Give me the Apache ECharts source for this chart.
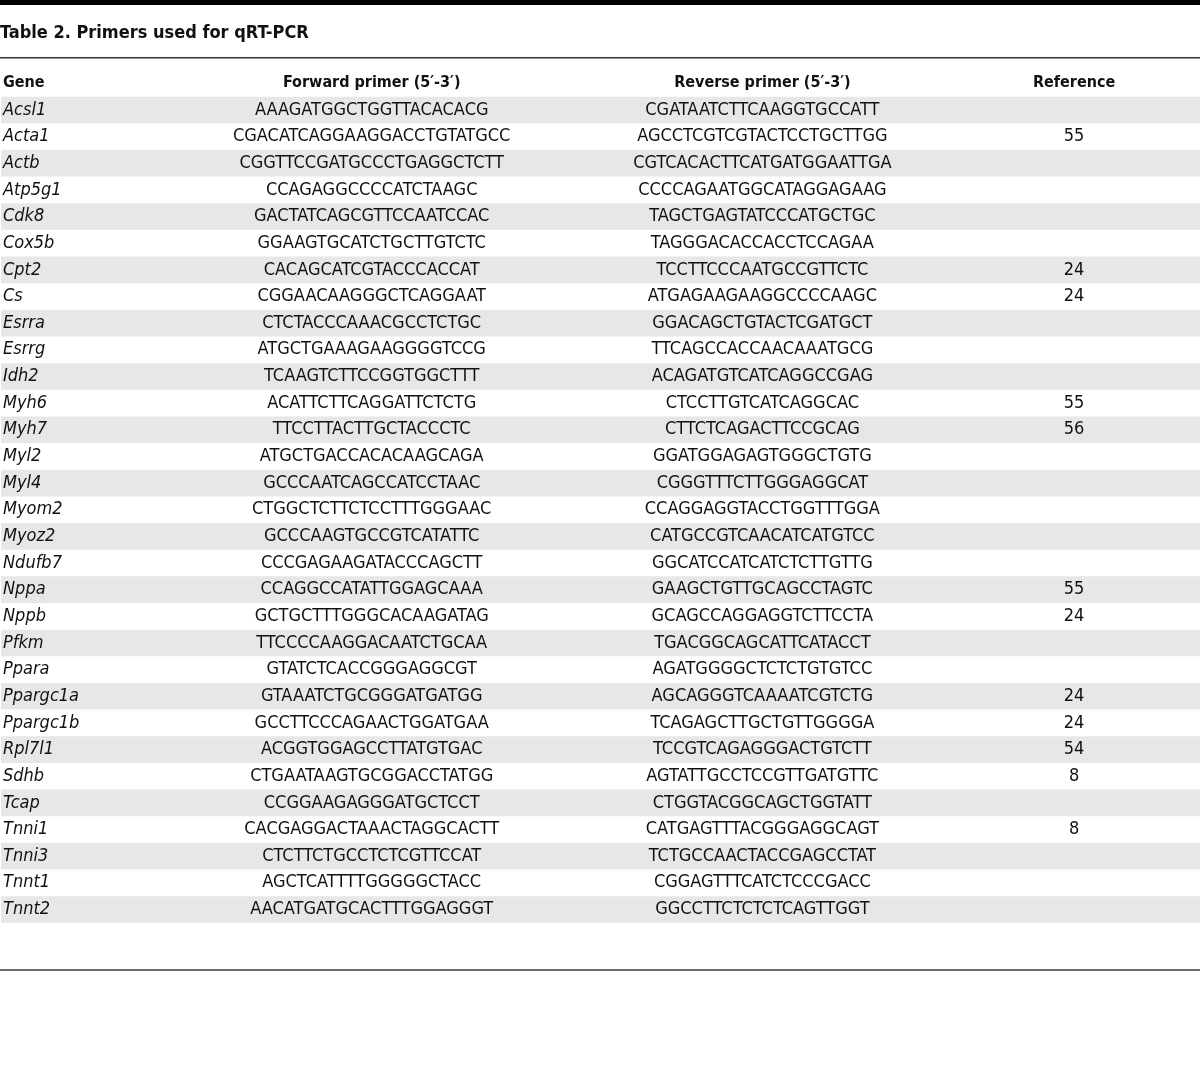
<!DOCTYPE html>
<html><head><meta charset="utf-8">
<script src="https://cdn.jsdelivr.net/npm/echarts@6/dist/echarts.min.js"></script>
<style>html,body{margin:0;padding:0;background:#fff}#c{width:1200px;height:1069px}</style>
</head><body><div id="c"></div>
<script>
const titleText = 'Table 2. Primers used for qRT-PCR';
const headers = ['Gene', 'Forward primer (5\u2032-3\u2032)', 'Reverse primer (5\u2032-3\u2032)', 'Reference'];
const genes = ['Acsl1','Acta1','Actb','Atp5g1','Cdk8','Cox5b','Cpt2','Cs','Esrra','Esrrg','Idh2','Myh6','Myh7','Myl2','Myl4','Myom2','Myoz2','Ndufb7','Nppa','Nppb','Pfkm','Ppara','Ppargc1a','Ppargc1b','Rpl7l1','Sdhb','Tcap','Tnni1','Tnni3','Tnnt1','Tnnt2'];
const forwardPrimers = ['AAAGATGGCTGGTTACACACG','CGACATCAGGAAGGACCTGTATGCC','CGGTTCCGATGCCCTGAGGCTCTT','CCAGAGGCCCCATCTAAGC','GACTATCAGCGTTCCAATCCAC','GGAAGTGCATCTGCTTGTCTC','CACAGCATCGTACCCACCAT','CGGAACAAGGGCTCAGGAAT','CTCTACCCAAACGCCTCTGC','ATGCTGAAAGAAGGGGTCCG','TCAAGTCTTCCGGTGGCTTT','ACATTCTTCAGGATTCTCTG','TTCCTTACTTGCTACCCTC','ATGCTGACCACACAAGCAGA','GCCCAATCAGCCATCCTAAC','CTGGCTCTTCTCCTTTGGGAAC','GCCCAAGTGCCGTCATATTC','CCCGAGAAGATACCCAGCTT','CCAGGCCATATTGGAGCAAA','GCTGCTTTGGGCACAAGATAG','TTCCCCAAGGACAATCTGCAA','GTATCTCACCGGGAGGCGT','GTAAATCTGCGGGATGATGG','GCCTTCCCAGAACTGGATGAA','ACGGTGGAGCCTTATGTGAC','CTGAATAAGTGCGGACCTATGG','CCGGAAGAGGGATGCTCCT','CACGAGGACTAAACTAGGCACTT','CTCTTCTGCCTCTCGTTCCAT','AGCTCATTTTGGGGGCTACC','AACATGATGCACTTTGGAGGGT'];
const reversePrimers = ['CGATAATCTTCAAGGTGCCATT','AGCCTCGTCGTACTCCTGCTTGG','CGTCACACTTCATGATGGAATTGA','CCCCAGAATGGCATAGGAGAAG','TAGCTGAGTATCCCATGCTGC','TAGGGACACCACCTCCAGAA','TCCTTCCCAATGCCGTTCTC','ATGAGAAGAAGGCCCCAAGC','GGACAGCTGTACTCGATGCT','TTCAGCCACCAACAAATGCG','ACAGATGTCATCAGGCCGAG','CTCCTTGTCATCAGGCAC','CTTCTCAGACTTCCGCAG','GGATGGAGAGTGGGCTGTG','CGGGTTTCTTGGGAGGCAT','CCAGGAGGTACCTGGTTTGGA','CATGCCGTCAACATCATGTCC','GGCATCCATCATCTCTTGTTG','GAAGCTGTTGCAGCCTAGTC','GCAGCCAGGAGGTCTTCCTA','TGACGGCAGCATTCATACCT','AGATGGGGCTCTCTGTGTCC','AGCAGGGTCAAAATCGTCTG','TCAGAGCTTGCTGTTGGGGA','TCCGTCAGAGGGACTGTCTT','AGTATTGCCTCCGTTGATGTTC','CTGGTACGGCAGCTGGTATT','CATGAGTTTACGGGAGGCAGT','TCTGCCAACTACCGAGCCTAT','CGGAGTTTCATCTCCCGACC','GGCCTTCTCTCTCAGTTGGT'];
const references = ['','55','','','','','24','24','','','','55','56','','','','','','55','24','','','24','24','54','8','','8','','',''];

// layout (column centres on a 0-1200 x scale)
const colCenter = [371, 762, 1074];
const FONT = '"Liberation Sans Narrow","DejaVu Sans Condensed","Noto Sans",sans-serif';
const TXT = '#111111';
const rows = [headers[0]].concat(genes);

function colSeries(ci, header, values) {
  const data = [[colCenter[ci], headers[0], header, 1]];
  values.forEach((v, i) => data.push([colCenter[ci], genes[i], v, 0]));
  return {
    type: 'scatter', symbolSize: 0, silent: true, data: data,
    itemStyle: { opacity: 1 },
    label: {
      show: true, position: 'inside', color: TXT, opacity: 1, fontFamily: FONT, fontSize: 18,
      formatter: p => p.value[3] ? '{h|' + p.value[2] + '}' : p.value[2],
      rich: { h: { fontWeight: 'bold', fontSize: 16, fontFamily: FONT, color: TXT } }
    }
  };
}

const chart = echarts.init(document.getElementById('c'), null, { renderer: 'canvas' });
chart.setOption({
  animation: false,
  backgroundColor: '#fff',
  title: { text: titleText, left: 0, top: 24, padding: 0,
    textStyle: { fontFamily: FONT, fontSize: 18, fontWeight: 'bold', color: TXT } },
  grid: { left: -2, right: -2, top: 70, height: 852.8 },
  xAxis: { type: 'value', min: 0, max: 1200, show: false },
  yAxis: {
    type: 'category', inverse: true, data: rows, boundaryGap: true,
    axisLine: { show: false }, axisTick: { show: false }, splitLine: { show: false },
    splitArea: { show: true, areaStyle: { color: ['rgba(255,255,255,0)', '#e6e7e9'] } },
    axisLabel: {
      inside: true, margin: 2, align: 'left', color: TXT, fontFamily: FONT, fontSize: 16,
      formatter: (v, i) => i === 0 ? '{h|' + v + '}' : '{g|' + v + '}',
      rich: {
        h: { fontWeight: 'bold', fontSize: 16, fontFamily: FONT, color: TXT },
        g: { fontStyle: 'italic', fontSize: 18, fontFamily: FONT, color: TXT }
      }
    }
  },
  series: [
    colSeries(0, headers[1], forwardPrimers),
    colSeries(1, headers[2], reversePrimers),
    colSeries(2, headers[3], references)
  ],
  graphic: [
    { type: 'rect', left: 0, top: 0, shape: { width: 1200, height: 5 }, style: { fill: '#000' } },
    { type: 'rect', left: 0, top: 57, shape: { width: 1200, height: 1.5 }, style: { fill: '#333' } },
    { type: 'rect', left: 0, top: 969, shape: { width: 1200, height: 2 }, style: { fill: '#6d6e70' } }
  ]
});
</script></body></html>
